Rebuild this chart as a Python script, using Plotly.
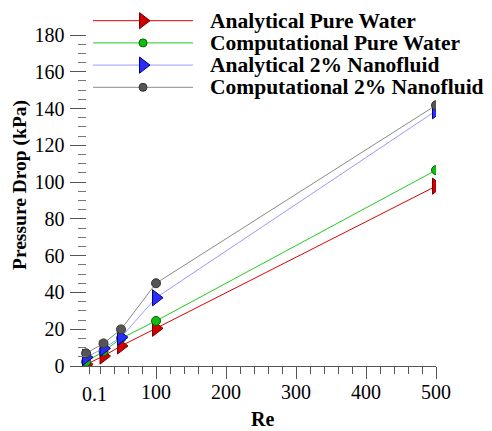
import plotly.graph_objects as go

re_vals = [0.1, 25, 50, 100, 500]
analytical_water = [0.9, 5.4, 10.9, 20.5, 97.8]
computational_water = [2.3, 8.0, 15.0, 24.5, 106.5]
analytical_nano = [4.7, 9.6, 15.6, 37.1, 138.8]
computational_nano = [6.9, 12.3, 19.9, 45.0, 141.8]
series_names = ["Analytical Pure Water", "Computational Pure Water",
                "Analytical 2% Nanofluid", "Computational 2% Nanofluid"]

x_tick_vals = [100, 200, 300, 400, 500]
x_tick_text = ["100", "200", "300", "400", "500"]
x_minor_vals = [5] + [v for v in range(20, 500, 20) if v % 100 != 0]
y_tick_vals = list(range(0, 181, 20))

FONT = "Liberation Serif"
O = 8                       # page body margin of the browser
W, H = 492 - O, 431 - O
L, R, T, B = 65, 56, 2, 65
PW, PH = W - L - R, H - T - B
Y0, Y180 = 366 - O, 35 - O  # pixel rows of y=0 and y=180 inside the figure


def xp(refx):
    return (refx - O - L) / PW


def yp(refy):
    return (H - B - (refy - O)) / PH


styles = [
    dict(lc="#e00000", mc="#cc0000", oc="#7a0000", sym="triangle-right", sz=14, lsz=14),
    dict(lc="#22cc22", mc="#11bb11", oc="#006600", sym="circle", sz=9, lsz=8),
    dict(lc="#9a9aff", mc="#2b2bff", oc="#00007a", sym="triangle-right", sz=14, lsz=14),
    dict(lc="#8a8a8a", mc="#555555", oc="#333333", sym="circle", sz=9, lsz=8),
]
data = [analytical_water, computational_water, analytical_nano, computational_nano]

fig = go.Figure()
for name, vals, st in zip(series_names, data, styles):
    fig.add_trace(go.Scatter(
        x=re_vals, y=vals, name=name, mode="lines+markers", showlegend=False,
        line=dict(color=st["lc"], width=1),
        marker=dict(symbol=st["sym"], size=st["sz"], color=st["mc"], line=dict(color=st["oc"], width=1)),
    ))

# manual legend on a pixel-space axis pair (values = reference pixel coords)
leg_rows = [20.7, 42.9, 65.1, 87.3]
annotations = []
for name, st, ry in zip(series_names, styles, leg_rows):
    fig.add_trace(go.Scatter(
        x=[93, 193], y=[ry, ry], xaxis="x2", yaxis="y2", mode="lines",
        line=dict(color=st["lc"], width=1), showlegend=False, hoverinfo="skip"))
    fig.add_trace(go.Scatter(
        x=[143], y=[ry], xaxis="x2", yaxis="y2", mode="markers", cliponaxis=False,
        marker=dict(symbol=st["sym"], size=st["lsz"], color=st["mc"], line=dict(color=st["oc"], width=1)),
        showlegend=False, hoverinfo="skip"))
    annotations.append(dict(
        text="<b>" + name + "</b>", x=xp(208.5), y=yp(ry), xref="paper", yref="paper",
        xanchor="left", yanchor="middle", showarrow=False, borderpad=0,
        font=dict(family=FONT, size=21.5, color="black")))

annotations += [
    dict(text="0.1", x=11.5, xref="x", y=yp(393.5), yref="paper",
         xanchor="center", yanchor="middle", showarrow=False,
         font=dict(family=FONT, size=20, color="black")),
    dict(text="<b>Re</b>", x=xp(262), xref="paper", y=yp(419), yref="paper",
         xanchor="center", yanchor="middle", showarrow=False,
         font=dict(family=FONT, size=20, color="black")),
    dict(text="<b>Pressure Drop (kPa)</b>", x=xp(20), xref="paper", y=yp(185), yref="paper",
         textangle=-90, xanchor="center", yanchor="middle", showarrow=False,
         font=dict(family=FONT, size=19.5, color="black")),
]

fig.update_layout(
    width=W, height=H,
    margin=dict(l=L, r=R, t=T, b=B, autoexpand=False),
    paper_bgcolor="white", plot_bgcolor="rgba(0,0,0,0)",
    font=dict(family=FONT, color="black"),
    showlegend=False,
    xaxis=dict(
        range=[-18.6, 500], domain=[0, 1], showgrid=False, zeroline=False,
        showline=True, linecolor="#555555", linewidth=1,
        ticks="outside", ticklen=12, tickcolor="#555555", tickwidth=1,
        tickvals=x_tick_vals, ticktext=x_tick_text,
        tickfont=dict(family=FONT, size=20, color="black"),
        ticklabelstandoff=-4,
        minor=dict(tickvals=x_minor_vals, ticks="outside", ticklen=7, tickcolor="#555555"),
    ),
    yaxis=dict(
        range=[0, 180], domain=[0, (Y0 - Y180) / PH], showgrid=False, zeroline=False, showline=False,
        anchor="free", position=12.5 / PW,
        ticks="outside", ticklen=16, tickcolor="#555555", tickwidth=1,
        tickvals=y_tick_vals,
        tickfont=dict(family=FONT, size=20, color="black"),
        ticklabelstandoff=1,
        minor=dict(dtick=5, tick0=0, ticks="outside", ticklen=8, tickcolor="#777777"),
    ),
    xaxis2=dict(range=[L + O, W - R + O], domain=[0, 1], visible=False, anchor="y2"),
    yaxis2=dict(range=[H - B + O, T + O], domain=[0, 1], visible=False, anchor="x2"),
    annotations=annotations,
)

fig.write_html("out.html")
